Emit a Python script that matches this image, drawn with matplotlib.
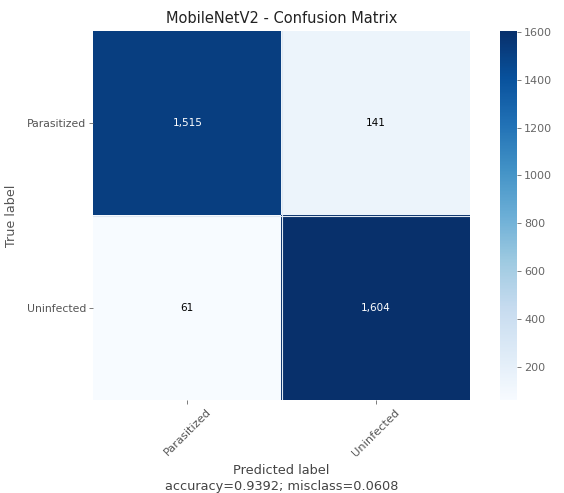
import numpy as np
import matplotlib.pyplot as plt

target_names = ["Parasitized", "Uninfected"]
cm = np.array([[1515, 141],
               [61, 1604]])
title = "MobileNetV2 - Confusion Matrix"

accuracy = np.trace(cm) / float(np.sum(cm))
misclass = 1 - accuracy

fig = plt.figure(figsize=(5.64, 4.93), dpi=100)
ax = fig.add_axes([93 / 564, 93 / 493, 377 / 564, 369 / 493])
cax = fig.add_axes([500 / 564, 93 / 493, 17 / 564, 369 / 493])

im = ax.imshow(cm, interpolation="none", cmap=plt.get_cmap("Blues"), aspect="auto")
ax.set_title(title, fontsize=10.5, color="#222222", pad=6)
cb = fig.colorbar(im, cax=cax)
cb.outline.set_visible(False)
cb.ax.tick_params(labelsize=8, colors="#666666", length=3, width=0.6, pad=2)
for t in cb.ax.get_yticklabels():
    t.set_color("#666666")

tick_marks = np.arange(len(target_names))
ax.set_xticks(tick_marks)
ax.set_xticklabels(target_names, rotation=45)
ax.set_yticks(tick_marks)
ax.set_yticklabels(target_names)
ax.tick_params(labelsize=7.8, colors="#666666", length=3, width=0.6, pad=2)
ax.tick_params(axis="x", labelsize=8.2)
for t in ax.get_xticklabels() + ax.get_yticklabels():
    t.set_color("#555555")
for s in ax.spines.values():
    s.set_visible(False)

# thin light lines between cells
ax.axhline(0.5, color="#dfe8f2", lw=0.8)
ax.axvline(0.5, color="#dfe8f2", lw=0.8)

thresh = cm.max() / 2
for i in range(cm.shape[0]):
    for j in range(cm.shape[1]):
        ax.text(j, i, "{:,}".format(cm[i, j]), ha="center", va="center", fontsize=7.5,
                color="white" if cm[i, j] > thresh else "black")

ax.set_ylabel("True label", fontsize=9.2, color="#555555", labelpad=6)
ax.set_xlabel("Predicted label\naccuracy={:0.4f}; misclass={:0.4f}".format(accuracy, misclass),
              fontsize=9.3, color="#444444", labelpad=4, linespacing=1.3)

fig.savefig("out.png", dpi=100)
